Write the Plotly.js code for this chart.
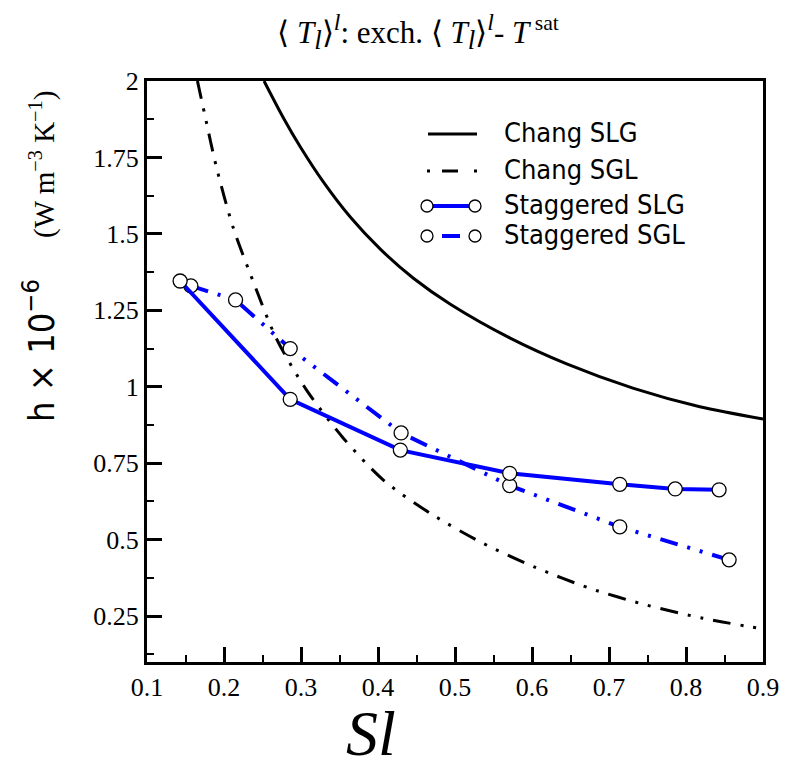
<!DOCTYPE html>
<html>
<head>
<meta charset="utf-8">
<script src="https://cdn.plot.ly/plotly-3.0.1.min.js"></script>
<style>html,body{margin:0;padding:0;background:#fff;}#plot{width:786px;height:771px;}</style>
</head>
<body>
<div id="plot"></div>
<script>
// ---- data ----
var changSLG_x = [0.252, 0.277, 0.299, 0.329, 0.364, 0.403, 0.446, 0.494, 0.571, 0.645, 0.732, 0.818, 0.9];
var changSLG_y = [2.0, 1.88, 1.785, 1.67, 1.555, 1.45, 1.355, 1.27, 1.16, 1.075, 0.995, 0.935, 0.895];

var changSGL_x = [0.1655, 0.175, 0.19, 0.212, 0.234, 0.268, 0.307, 0.355, 0.407, 0.468, 0.535, 0.602, 0.675, 0.749, 0.822, 0.9];
var changSGL_y = [2.0, 1.89, 1.72, 1.52, 1.37, 1.158, 0.99, 0.832, 0.695, 0.586, 0.49, 0.412, 0.341, 0.286, 0.243, 0.208];

var stagSLG_x = [0.143, 0.286, 0.429, 0.571, 0.714, 0.786, 0.843];
var stagSLG_y = [1.346, 0.959, 0.793, 0.717, 0.681, 0.666, 0.663];

var stagSGL_x = [0.157, 0.215, 0.286, 0.43, 0.571, 0.714, 0.856];
var stagSGL_y = [1.330, 1.284, 1.125, 0.849, 0.677, 0.542, 0.434];

var xTickVals = [0.1, 0.2, 0.3, 0.4, 0.5, 0.6, 0.7, 0.8, 0.9];
var xTickText = ['0.1', '0.2', '0.3', '0.4', '0.5', '0.6', '0.7', '0.8', '0.9'];
var yTickVals = [0.25, 0.5, 0.75, 1, 1.25, 1.5, 1.75, 2];
var yTickText = ['0.25', '0.5', '0.75', '1', '1.25', '1.5', '1.75', '2'];

var legendNames = ['Chang SLG', 'Chang SGL', 'Staggered SLG', 'Staggered SGL'];

// ---- layout geometry ----
var W = 786, H = 771;
var M = {l: 147, r: 23, t: 81, b: 109};
var PW = W - M.l - M.r, PH = H - M.t - M.b;
function px(x) { return (x - M.l) / PW; }
function py(y) { return (H - M.b - y) / PH; }

var dashDotDot = '18px,10px,3px,10px,3px,10px';
var serif = 'Liberation Serif, Times New Roman, serif';
var sans = 'DejaVu Sans Condensed, DejaVu Sans, sans-serif';

var traces = [
  {x: changSLG_x, y: changSLG_y, mode: 'lines', name: legendNames[0],
   line: {color: 'black', width: 3, shape: 'spline', smoothing: 0.8}},
  {x: changSGL_x, y: changSGL_y, mode: 'lines', name: legendNames[1],
   line: {color: 'black', width: 3, dash: dashDotDot, shape: 'spline', smoothing: 0.8}},
  {x: stagSGL_x, y: stagSGL_y, mode: 'lines+markers', name: legendNames[3],
   line: {color: '#0000ff', width: 4, dash: dashDotDot},
   marker: {symbol: 'circle', size: 14, color: 'white', line: {color: 'black', width: 1.3}}},
  {x: stagSLG_x, y: stagSLG_y, mode: 'lines+markers', name: legendNames[2],
   line: {color: '#0000ff', width: 4},
   marker: {symbol: 'circle', size: 14, color: 'white', line: {color: 'black', width: 1.3}}}
];

// custom legend
var rows = [134, 171, 206, 236];
var shapes = [];
var annotations = [];
function hline(x0, x1, y, color, width, dash) {
  shapes.push({type: 'line', xref: 'paper', yref: 'paper', x0: px(x0), x1: px(x1), y0: py(y), y1: py(y),
    line: {color: color, width: width, dash: dash || 'solid'}, layer: 'above'});
}
function circ(cx, cy, d) {
  shapes.push({type: 'circle', xref: 'paper', yref: 'paper', x0: px(cx - d / 2), x1: px(cx + d / 2),
    y0: py(cy + d / 2), y1: py(cy - d / 2), fillcolor: 'white', line: {color: 'black', width: 1.3}, layer: 'above'});
}
hline(428, 477, rows[0], 'black', 3);
hline(427, 478, rows[1], 'black', 3, '3px,12px,16px,16px,3px');
hline(432, 470, rows[2], '#0000ff', 4);
circ(427, rows[2], 12); circ(475, rows[2], 12);
hline(442, 460, rows[3], '#0000ff', 4);
circ(427, rows[3], 12); circ(475, rows[3], 12);
for (var i = 0; i < 4; i++) {
  annotations.push({xref: 'paper', yref: 'paper', x: px(502), y: py(rows[i] - 2), xanchor: 'left', yanchor: 'middle',
    text: legendNames[i], showarrow: false, font: {family: sans, size: 27, color: 'black'}});
}
// y-axis title
annotations.push({xref: 'paper', yref: 'paper', x: px(39), y: py(257), xanchor: 'center', yanchor: 'middle',
  textangle: -90, showarrow: false,
  text: 'h × 10<sup>−6</sup>&nbsp;&nbsp;&nbsp;&nbsp;<span style="font-family:Liberation Serif;font-size:29px">(W m<sup>−3</sup> K<sup>−1</sup>)</span>',
  font: {family: sans, size: 36, color: 'black'}});
// x-axis title
annotations.push({xref: 'paper', yref: 'paper', x: px(371), y: py(733), xanchor: 'center', yanchor: 'middle',
  showarrow: false, borderpad: 0, borderwidth: 0, text: '<i>S</i><i>l</i>',
  font: {family: serif, size: 64, color: 'black'}});

var axisCommon = {
  showgrid: false, zeroline: false, showline: true, linecolor: 'black', linewidth: 3, mirror: true,
  ticks: 'inside', ticklen: 15, tickwidth: 3, tickcolor: 'black',
  tickfont: {family: serif, size: 26, color: 'black'}
};

var layout = {
  width: W, height: H, margin: M, showlegend: false,
  paper_bgcolor: 'white', plot_bgcolor: 'white',
  title: {text: '⟨ <i>T<sub><span style="font-size:27px">l</span></sub></i>⟩<sup><i><span style="font-size:24px">l</span></i></sup>: exch. ⟨ <i>T<sub><span style="font-size:27px">l</span></sub></i>⟩<sup><i><span style="font-size:24px">l</span></i></sup>- <i>T</i><sup> sat</sup>',
    font: {family: serif, size: 31, color: 'black'}, x: px(418), xref: 'paper', xanchor: 'center',
    y: 1 - 32 / H, yref: 'container', yanchor: 'middle'},
  xaxis: Object.assign({}, axisCommon, {range: [0.1, 0.9], tickvals: xTickVals, ticktext: xTickText,
    minor: {dtick: 0.05, tick0: 0, ticks: 'inside', ticklen: 7, tickwidth: 2, tickcolor: 'black'}}),
  yaxis: Object.assign({}, axisCommon, {range: [0.1, 2], tickvals: yTickVals, ticktext: yTickText,
    minor: {dtick: 0.125, tick0: 0, ticks: 'inside', ticklen: 7, tickwidth: 2, tickcolor: 'black'}}),
  shapes: shapes, annotations: annotations
};

Plotly.newPlot('plot', traces, layout, {staticPlot: true});
</script>
</body>
</html>
